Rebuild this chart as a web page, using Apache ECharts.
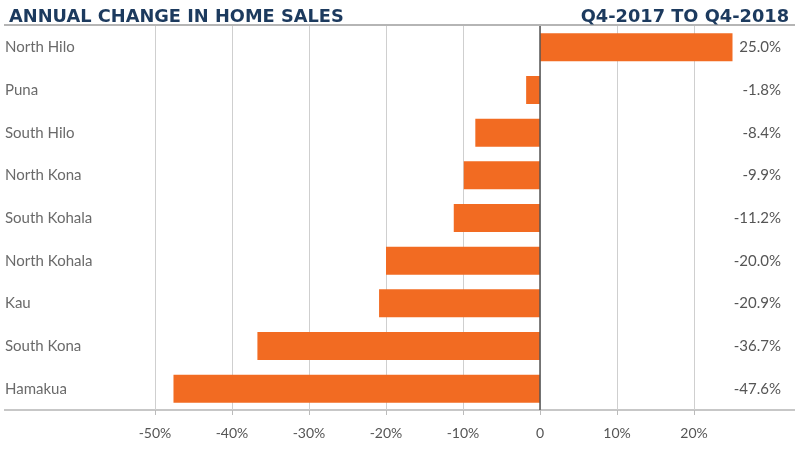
<!DOCTYPE html>
<html><head><meta charset="utf-8">
<script src="https://cdn.jsdelivr.net/npm/echarts@6/dist/echarts.min.js"></script>
<style>html,body{margin:0;padding:0;background:#fff;}#c{width:800px;height:452px;}</style>
</head><body><div id="c"></div>
<script>
const categories = ['North Hilo','Puna','South Hilo','North Kona','South Kohala','North Kohala','Kau','South Kona','Hamakua'];
const values = [25.0, -1.8, -8.4, -9.9, -11.2, -20.0, -20.9, -36.7, -47.6];
const title = 'ANNUAL CHANGE IN HOME SALES';
const subtitle = 'Q4-2017 TO Q4-2018';
const xMin = -50, xMax = 30, xStep = 10;

const chart = echarts.init(document.getElementById('c'), null, {renderer:'canvas'});
const font = 'Lato, "Open Sans", sans-serif';
const titleFont = '"DejaVu Sans", sans-serif';
chart.setOption({
  animation:false,
  textStyle:{fontFamily:font},
  title:[
    {text:title, left:4, top:3, textStyle:{fontFamily:titleFont, fontSize:17.8, fontWeight:'bold', color:'#1c3a5e'}},
    {text:subtitle, right:6, top:3, textStyle:{fontFamily:titleFont, fontSize:17.8, fontWeight:'bold', color:'#1c3a5e'}}
  ],
  grid:{left:155, right:29, top:26, bottom:42},
  xAxis:{
    type:'value', min:xMin, max:xMax, interval:xStep,
    axisLine:{show:false},
    axisTick:{show:true, length:5, lineStyle:{color:'#bbb'}},
    splitLine:{show:true, showMaxLine:false, lineStyle:{color:'#cfcfcf', width:1}},
    axisLabel:{showMaxLabel:false, margin:16, color:'#555', fontSize:14, fontFamily:font,
      formatter:v => v === 0 ? '0' : v + '%'}
  },
  yAxis:[
    {type:'category', data:categories, inverse:true,
     axisLine:{show:false}, axisTick:{show:false}, splitLine:{show:false},
     axisLabel:{align:'left', margin:150, color:'#6a6a6a', fontSize:15, fontFamily:font}},
    {type:'category', data:values.map(v => v.toFixed(1) + '%'), inverse:true, position:'right',
     axisLine:{show:false}, axisTick:{show:false}, splitLine:{show:false},
     axisLabel:{align:'right', margin:10, color:'#555', fontSize:15, fontFamily:font}}
  ],
  series:[{
    type:'bar', data:values, barWidth:28, yAxisIndex:0,
    itemStyle:{color:'#f26b22'},
    markLine:{silent:true, symbol:'none', label:{show:false},
      lineStyle:{color:'#555', width:1.5, type:'solid'}, data:[{xAxis:0}]}
  }],
  graphic:[
    {type:'line', shape:{x1:4, y1:25, x2:795, y2:25}, style:{stroke:'#b5b5b5', lineWidth:2}},
    {type:'line', shape:{x1:4, y1:410, x2:795, y2:410}, style:{stroke:'#b5b5b5', lineWidth:1.5}}
  ]
});
</script></body></html>
